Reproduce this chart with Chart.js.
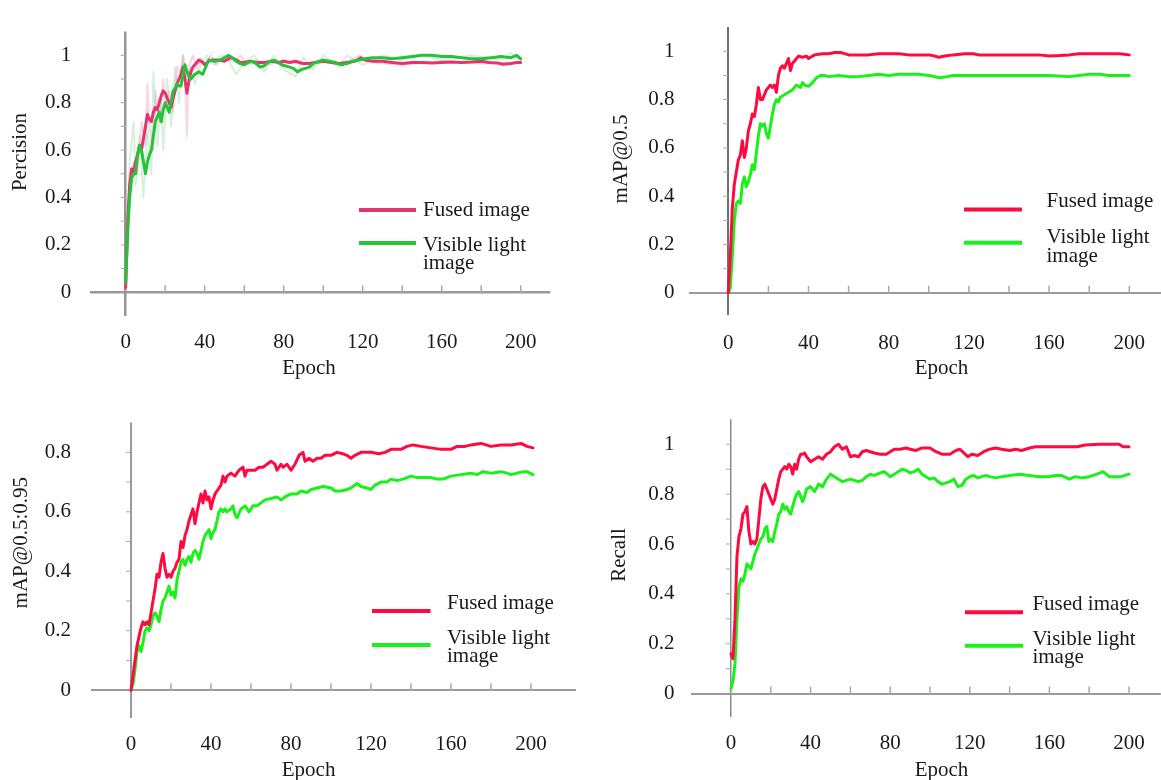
<!DOCTYPE html>
<html><head><meta charset="utf-8">
<script src="https://cdn.jsdelivr.net/npm/chart.js@4.4.1/dist/chart.umd.min.js"></script>
<style>
html,body{margin:0;padding:0;background:#fff;}
body{width:1161px;height:780px;position:relative;overflow:hidden;}
canvas{position:absolute;}
</style></head><body>
<canvas id="c1" width="580" height="390" style="left:0px;top:0px"></canvas>
<canvas id="c2" width="581" height="390" style="left:580px;top:0px"></canvas>
<canvas id="c3" width="580" height="390" style="left:0px;top:390px"></canvas>
<canvas id="c4" width="581" height="390" style="left:580px;top:390px"></canvas>
<script>
// ---------- tick labels / text ----------
const xTickLabels = [0, 40, 80, 120, 160, 200];
const xMinorTicks = [20, 40, 60, 80, 100, 120, 140, 160, 180, 200];
const yTicksUnit = [0, 0.2, 0.4, 0.6, 0.8, 1];
const yTicksMap95 = [0, 0.2, 0.4, 0.6, 0.8];
const yMinorUnit = [0.1, 0.2, 0.3, 0.4, 0.5, 0.6, 0.7, 0.8, 0.9, 1.0];
const yMinorMap95 = [0.1, 0.2, 0.3, 0.4, 0.5, 0.6, 0.7, 0.8];
const seriesLabels = ['Fused image', 'Visible light image'];
const legendLines = [['Fused image'], ['Visible light', 'image']];
const yTitles = ['Percision', 'mAP@0.5', 'mAP@0.5:0.95', 'Recall'];
const xTitle = 'Epoch';

// ---------- data: [epoch, value] ----------
const precisionFused = [[0,0.02],[1,0.3],[2,0.45],[3,0.52],[4,0.51],[5,0.55],[6,0.58],[7,0.62],[8,0.6],[9,0.65],[10,0.7],[11,0.75],[12,0.73],[13,0.72],[14,0.76],[15,0.78],[16,0.77],[17,0.8],[18,0.83],[19,0.85],[20,0.84],[21,0.82],[22,0.8],[23,0.78],[24,0.82],[25,0.85],[26,0.88],[27,0.9],[28,0.92],[29,0.95],[30,0.9],[31,0.84],[32,0.89],[33,0.93],[34,0.95],[35,0.96],[37,0.98],[39,0.97],[40,0.96],[42,0.975],[44,0.98],[47,0.98],[50,0.975],[53,0.99],[55,0.985],[58,0.97],[60,0.97],[63,0.975],[66,0.97],[70,0.97],[74,0.975],[78,0.97],[80,0.975],[83,0.97],[86,0.975],[90,0.965],[93,0.965],[96,0.97],[100,0.975],[104,0.97],[108,0.965],[112,0.97],[116,0.975],[119,0.99],[121,0.98],[125,0.975],[130,0.975],[135,0.97],[140,0.965],[145,0.97],[150,0.97],[155,0.968],[160,0.97],[165,0.972],[170,0.97],[175,0.972],[180,0.975],[184,0.97],[188,0.968],[191,0.962],[195,0.965],[198,0.97],[200,0.97]];
const precisionVisible = [[0,0.04],[1,0.25],[2,0.4],[3,0.48],[4,0.5],[5,0.5],[6,0.58],[7,0.62],[8,0.6],[9,0.55],[10,0.5],[11,0.55],[12,0.58],[13,0.6],[14,0.66],[15,0.72],[16,0.74],[17,0.76],[18,0.72],[19,0.77],[20,0.8],[21,0.78],[22,0.76],[23,0.8],[24,0.85],[25,0.86],[26,0.88],[27,0.87],[28,0.87],[29,0.92],[30,0.96],[31,0.93],[32,0.91],[33,0.9],[35,0.92],[37,0.93],[39,0.92],[40,0.94],[42,0.98],[45,0.975],[48,0.98],[50,0.99],[52,1.0],[54,0.99],[56,0.975],[58,0.965],[60,0.96],[62,0.97],[64,0.975],[66,0.965],[68,0.95],[70,0.955],[72,0.97],[75,0.98],[77,0.97],[79,0.96],[81,0.955],[83,0.95],[85,0.945],[87,0.93],[89,0.94],[91,0.945],[93,0.95],[95,0.965],[98,0.975],[100,0.98],[103,0.975],[106,0.97],[109,0.96],[112,0.965],[115,0.975],[118,0.98],[121,0.985],[125,0.99],[130,0.99],[135,0.985],[140,0.99],[145,0.995],[150,1.0],[155,1.0],[160,0.995],[165,0.995],[170,0.99],[175,0.985],[180,0.985],[185,0.99],[190,0.995],[195,0.99],[198,1.0],[200,0.985]];
const precisionFusedRaw = [[0,0.02],[2,0.5],[4,0.55],[6,0.5],[8,0.72],[10,0.62],[11,0.88],[12,0.7],[14,0.6],[15,0.85],[17,0.72],[19,0.9],[20,0.78],[22,0.85],[24,0.76],[26,0.95],[28,0.92],[29,1.0],[30,0.9],[31,0.66],[32,0.95],[34,1.0],[36,0.94],[38,0.99],[40,0.96],[43,1.0],[46,0.96],[50,1.0],[55,0.97],[58,1.0],[62,0.96],[66,0.98],[72,0.96],[80,0.98],[90,0.96],[100,0.98],[110,0.96],[118,1.0],[125,0.97],[140,0.96],[160,0.975],[180,0.965],[200,0.97]];
const precisionVisibleRaw = [[0,0.04],[2,0.55],[4,0.72],[5,0.45],[7,0.66],[9,0.4],[11,0.7],[13,0.5],[14,0.93],[16,0.62],[18,0.82],[19,0.6],[21,0.9],[23,0.7],[25,0.95],[27,0.8],[29,1.0],[31,0.9],[33,0.95],[35,0.88],[38,0.96],[41,1.0],[45,0.96],[48,1.0],[52,0.98],[56,0.92],[60,0.97],[65,1.0],[70,0.93],[75,1.0],[80,0.94],[86,0.91],[90,0.99],[95,0.94],[100,1.0],[108,0.95],[112,1.0],[120,0.96],[130,1.0],[140,0.98],[150,1.0],[160,0.98],[175,1.0],[190,0.98],[195,1.01],[200,0.98]];

const map50Fused = [[0,0],[1,0.15],[2,0.35],[3,0.45],[4,0.5],[5,0.55],[6,0.57],[7,0.63],[8,0.56],[9,0.6],[10,0.67],[11,0.7],[12,0.74],[13,0.73],[14,0.78],[15,0.85],[16,0.8],[17,0.8],[18,0.82],[19,0.84],[20,0.85],[21,0.86],[22,0.85],[23,0.86],[24,0.83],[25,0.9],[26,0.93],[27,0.94],[28,0.93],[29,0.95],[30,0.97],[31,0.92],[32,0.95],[33,0.96],[35,0.98],[37,0.975],[39,0.98],[40,0.97],[43,0.985],[47,0.99],[50,0.99],[53,0.995],[56,0.995],[58,0.99],[60,0.985],[65,0.985],[70,0.985],[75,0.99],[80,0.99],[85,0.99],[90,0.985],[95,0.985],[100,0.985],[103,0.98],[105,0.975],[108,0.98],[112,0.985],[118,0.99],[122,0.99],[125,0.985],[130,0.985],[140,0.985],[150,0.985],[155,0.985],[160,0.98],[165,0.982],[170,0.985],[175,0.99],[180,0.99],[185,0.99],[190,0.99],[195,0.99],[200,0.985]];
const map50Visible = [[0,0],[1,0.02],[2,0.15],[3,0.3],[4,0.37],[5,0.38],[6,0.37],[7,0.45],[8,0.48],[9,0.44],[10,0.46],[11,0.49],[12,0.53],[13,0.51],[14,0.58],[15,0.65],[16,0.7],[17,0.69],[18,0.7],[19,0.66],[20,0.64],[21,0.69],[22,0.74],[23,0.78],[24,0.8],[25,0.79],[26,0.81],[28,0.82],[30,0.83],[32,0.84],[34,0.86],[36,0.85],[37,0.87],[38,0.86],[40,0.855],[42,0.87],[44,0.89],[46,0.9],[48,0.9],[50,0.895],[55,0.9],[60,0.895],[65,0.895],[70,0.9],[75,0.905],[80,0.9],[85,0.905],[90,0.905],[95,0.905],[100,0.9],[103,0.895],[105,0.89],[108,0.893],[112,0.9],[118,0.9],[125,0.9],[130,0.9],[140,0.9],[150,0.9],[160,0.9],[170,0.895],[175,0.9],[180,0.905],[185,0.905],[190,0.9],[195,0.9],[200,0.9]];

const map5095Fused = [[0,0],[1,0.05],[2,0.1],[3,0.15],[4,0.18],[5,0.21],[6,0.23],[7,0.22],[8,0.23],[9,0.22],[10,0.26],[11,0.3],[12,0.34],[13,0.39],[14,0.38],[15,0.43],[16,0.46],[17,0.41],[18,0.38],[19,0.39],[20,0.38],[21,0.4],[22,0.41],[23,0.43],[24,0.44],[25,0.5],[26,0.48],[27,0.52],[28,0.54],[29,0.57],[30,0.59],[31,0.61],[32,0.56],[33,0.6],[34,0.63],[35,0.66],[36,0.63],[37,0.67],[38,0.64],[39,0.65],[40,0.61],[41,0.64],[42,0.66],[43,0.67],[45,0.69],[46,0.72],[47,0.7],[48,0.72],[50,0.73],[52,0.72],[54,0.74],[56,0.75],[57,0.72],[58,0.74],[60,0.74],[62,0.74],[64,0.75],[66,0.75],[68,0.76],[70,0.77],[72,0.76],[73,0.74],[75,0.76],[76,0.75],[78,0.76],[80,0.74],[82,0.76],[84,0.79],[86,0.8],[87,0.77],[89,0.78],[91,0.77],[93,0.78],[95,0.78],[97,0.79],[100,0.79],[103,0.8],[106,0.795],[108,0.79],[110,0.78],[112,0.79],[115,0.8],[118,0.8],[120,0.8],[124,0.795],[127,0.8],[130,0.81],[135,0.81],[138,0.82],[141,0.825],[145,0.82],[150,0.815],[155,0.81],[160,0.81],[163,0.82],[167,0.82],[170,0.825],[175,0.83],[180,0.82],[185,0.825],[190,0.825],[195,0.83],[198,0.82],[201,0.815]];
const map5095Visible = [[0,0],[1,0.02],[2,0.07],[3,0.13],[4,0.15],[5,0.13],[6,0.16],[7,0.2],[8,0.21],[9,0.2],[10,0.22],[11,0.25],[12,0.26],[13,0.25],[14,0.23],[15,0.27],[16,0.3],[17,0.31],[18,0.33],[19,0.35],[20,0.32],[21,0.33],[22,0.31],[23,0.37],[24,0.4],[25,0.43],[26,0.44],[27,0.42],[28,0.44],[29,0.45],[30,0.43],[31,0.46],[32,0.47],[33,0.46],[34,0.44],[35,0.47],[36,0.5],[37,0.52],[38,0.53],[39,0.54],[40,0.51],[41,0.53],[42,0.54],[43,0.57],[44,0.6],[45,0.61],[46,0.6],[47,0.61],[48,0.6],[50,0.61],[51,0.62],[52,0.59],[53,0.58],[55,0.61],[57,0.62],[59,0.6],[61,0.62],[63,0.62],[65,0.63],[67,0.64],[70,0.645],[73,0.65],[75,0.64],[77,0.65],[80,0.66],[83,0.66],[85,0.67],[88,0.665],[90,0.675],[93,0.68],[96,0.685],[100,0.68],[102,0.67],[105,0.67],[108,0.675],[110,0.68],[113,0.695],[115,0.685],[118,0.68],[120,0.675],[122,0.69],[125,0.7],[128,0.7],[130,0.71],[133,0.705],[136,0.71],[140,0.72],[143,0.715],[146,0.715],[150,0.715],[153,0.71],[156,0.71],[160,0.72],[165,0.725],[170,0.73],[173,0.725],[176,0.735],[180,0.73],[185,0.735],[188,0.73],[190,0.725],[193,0.73],[196,0.735],[198,0.735],[201,0.725]];

const recallFused = [[0,0.16],[1,0.14],[2,0.3],[3,0.55],[4,0.63],[5,0.66],[6,0.72],[7,0.73],[8,0.75],[9,0.65],[10,0.6],[11,0.61],[12,0.6],[13,0.62],[14,0.7],[15,0.78],[16,0.83],[17,0.84],[18,0.82],[19,0.8],[20,0.78],[21,0.76],[22,0.78],[23,0.82],[24,0.86],[25,0.89],[26,0.9],[27,0.91],[28,0.9],[29,0.92],[30,0.91],[31,0.88],[32,0.92],[33,0.9],[34,0.94],[35,0.96],[36,0.96],[37,0.965],[38,0.95],[40,0.93],[42,0.94],[44,0.95],[46,0.94],[48,0.96],[50,0.97],[52,0.99],[54,1.0],[56,0.98],[58,0.99],[60,0.95],[62,0.955],[64,0.95],[66,0.97],[68,0.975],[70,0.97],[72,0.965],[75,0.96],[78,0.96],[80,0.97],[82,0.98],[85,0.98],[88,0.985],[90,0.98],[93,0.975],[96,0.985],[100,0.985],[103,0.97],[106,0.96],[110,0.96],[113,0.975],[115,0.98],[117,0.965],[119,0.95],[121,0.96],[124,0.955],[127,0.97],[130,0.98],[133,0.985],[136,0.98],[140,0.975],[143,0.98],[146,0.975],[150,0.985],[153,0.99],[160,0.99],[170,0.99],[174,0.99],[178,0.997],[185,1.0],[192,1.0],[195,1.0],[197,0.99],[200,0.99]];
const recallVisible = [[0,0.02],[1,0.05],[2,0.12],[3,0.3],[4,0.43],[5,0.46],[6,0.45],[7,0.48],[8,0.52],[9,0.51],[10,0.5],[11,0.53],[12,0.56],[13,0.58],[14,0.6],[15,0.62],[16,0.63],[17,0.66],[18,0.67],[19,0.61],[20,0.62],[21,0.61],[22,0.65],[23,0.68],[24,0.72],[25,0.73],[26,0.76],[27,0.74],[28,0.75],[29,0.73],[30,0.72],[31,0.75],[32,0.78],[33,0.8],[34,0.81],[35,0.79],[36,0.77],[37,0.79],[38,0.82],[40,0.83],[42,0.81],[44,0.84],[46,0.83],[48,0.86],[50,0.88],[52,0.87],[54,0.86],[56,0.85],[58,0.855],[60,0.86],[62,0.855],[64,0.85],[66,0.855],[68,0.87],[70,0.88],[72,0.875],[75,0.885],[77,0.89],[80,0.87],[82,0.88],[84,0.89],[86,0.9],[88,0.895],[90,0.885],[92,0.89],[94,0.9],[96,0.88],[98,0.87],[100,0.86],[102,0.865],[104,0.85],[106,0.84],[108,0.845],[110,0.85],[112,0.86],[114,0.83],[116,0.835],[118,0.86],[120,0.87],[122,0.875],[124,0.865],[126,0.87],[128,0.875],[130,0.87],[133,0.865],[136,0.87],[140,0.875],[145,0.88],[150,0.875],[155,0.87],[160,0.87],[163,0.875],[166,0.875],[170,0.86],[173,0.87],[176,0.865],[180,0.87],[184,0.88],[187,0.89],[190,0.87],[193,0.87],[196,0.87],[200,0.88]];

// ---------- drawing ----------
const FONT_FAMILY = '"Liberation Serif", "Times New Roman", serif';
const FONT_SIZE = 21;

function makeExtras(cfg) {
  return {
    id: 'extras',
    beforeDatasetsDraw(chart) {
      const ctx = chart.ctx, xs = chart.scales.x, ys = chart.scales.y;
      const ax = xs.getPixelForValue(0), ay = ys.getPixelForValue(0);
      ctx.save();
      ctx.strokeStyle = cfg.tickColor; ctx.lineWidth = 1.5;
      cfg.xMinor.forEach(v => { const p = xs.getPixelForValue(v); ctx.beginPath(); ctx.moveTo(p, ay + 1); ctx.lineTo(p, ay - 7); ctx.stroke(); });
      ctx.lineWidth = 1;
      cfg.yMinor.forEach(v => { const p = ys.getPixelForValue(v); ctx.beginPath(); ctx.moveTo(ax - 5, p); ctx.lineTo(ax, p); ctx.stroke(); });
      ctx.restore();
    },
    afterDraw(chart) {
      const ctx = chart.ctx;
      ctx.save();
      ctx.font = FONT_SIZE + 'px ' + FONT_FAMILY;
      ctx.fillStyle = '#1a1a1a';
      ctx.textAlign = 'center'; ctx.textBaseline = 'middle';
      ctx.fillText(cfg.xTitle, cfg.xTitleAt[0], cfg.xTitleAt[1]);
      ctx.save();
      ctx.translate(cfg.yTitleAt[0], cfg.yTitleAt[1]); ctx.rotate(-Math.PI / 2);
      ctx.fillText(cfg.yTitle, 0, 0);
      ctx.restore();
      ctx.textAlign = 'left';
      cfg.legend.items.forEach(it => {
        const ds = chart.data.datasets[it.ds];
        ctx.strokeStyle = ds.borderColor; ctx.lineWidth = cfg.legend.lineWidth;
        ctx.beginPath(); ctx.moveTo(cfg.legend.x1, it.lineY); ctx.lineTo(cfg.legend.x2, it.lineY); ctx.stroke();
        it.lines.forEach((t, i) => ctx.fillText(t, cfg.legend.textX, it.textYs[i]));
      });
      ctx.restore();
    }
  };
}

function makePanel(id, s, datasets) {
  const el = document.getElementById(id);
  const W = el.width, H = el.height;
  const cl = s.x0 + s.xmin * s.ppe - s.left;
  const cr = s.x0 + s.xmax * s.ppe - s.left;
  const ct = s.y0 - s.ymax * s.ppu - s.top;
  const cb = s.y0 - s.ymin * s.ppu - s.top;
  const L = (p) => [p[0] - s.left, p[1] - s.top];
  const font = { family: FONT_FAMILY, size: FONT_SIZE };
  const extras = makeExtras({
    tickColor: '#a8a8a8',
    xMinor: xMinorTicks, yMinor: s.yMinor,
    xTitle: xTitle, xTitleAt: L(s.xTitleAt),
    yTitle: s.yTitle, yTitleAt: L(s.yTitleAt),
    legend: {
      x1: s.legend.x1 - s.left, x2: s.legend.x2 - s.left, textX: s.legend.textX - s.left, lineWidth: 4,
      items: [
        { ds: datasets.findIndex(d => d.label === seriesLabels[0]), lineY: s.legend.lineY[0] - s.top, lines: legendLines[0], textYs: s.legend.textY[0].map(v => v - s.top) },
        { ds: datasets.findIndex(d => d.label === seriesLabels[1]), lineY: s.legend.lineY[1] - s.top, lines: legendLines[1], textYs: s.legend.textY[1].map(v => v - s.top) }
      ]
    }
  });
  new Chart(el, {
    type: 'line',
    data: {
      datasets: datasets.map(d => ({
        label: d.label,
        data: d.points.map(p => ({ x: p[0], y: p[1] })),
        borderColor: d.color, borderWidth: d.width,
        pointRadius: 0, tension: 0, fill: false, order: d.order,
        borderJoinStyle: 'round', borderCapStyle: 'round'
      }))
    },
    options: {
      responsive: false, animation: false, events: [],
      layout: { padding: { left: 0, top: ct, right: W - cr, bottom: 0 } },
      plugins: { legend: { display: false }, tooltip: { enabled: false }, title: { display: false } },
      scales: {
        x: {
          type: 'linear', min: s.xmin, max: s.xmax,
          afterFit: sc => { sc.height = H - cb; },
          afterBuildTicks: sc => { sc.ticks = xTickLabels.map(v => ({ value: v })); },
          border: { display: false },
          grid: {
            drawTicks: false,
            color: c => (c.tick && c.tick.value === 0) ? s.yAxisColor : 'rgba(0,0,0,0)',
            lineWidth: c => (c.tick && c.tick.value === 0) ? s.yAxisWidth : 0
          },
          ticks: { font: font, color: '#1a1a1a', padding: s.xLabelY - s.top - cb - FONT_SIZE * 0.6, maxRotation: 0, autoSkip: false,
                   callback: v => String(v) }
        },
        y: {
          type: 'linear', min: s.ymin, max: s.ymax,
          afterFit: sc => { sc.width = cl; },
          afterBuildTicks: sc => { sc.ticks = s.yTicks.map(v => ({ value: v })); },
          border: { display: false },
          grid: {
            drawTicks: false,
            color: c => (c.tick && c.tick.value === 0) ? s.xAxisColor : 'rgba(0,0,0,0)',
            lineWidth: c => (c.tick && c.tick.value === 0) ? s.xAxisWidth : 0
          },
          ticks: { font: font, color: '#1a1a1a', padding: s.yTickPad, callback: v => String(v) }
        }
      }
    },
    plugins: [extras]
  });
}

const P1 = { left: 0, top: 0, x0: 125.7, ppe: 1.975, xmin: -18, xmax: 215, y0: 290.7, ppu: 253, ymin: -0.1, ymax: 1.1,
  yTicks: yTicksUnit, yMinor: yMinorUnit, yTickPad: 19, xLabelY: 342, yTitle: yTitles[0], yTitleAt: [20.4, 152], xTitleAt: [309, 368],
  xAxisColor: '#9a9a9a', xAxisWidth: 2.5, yAxisColor: '#959595', yAxisWidth: 2.5,
  legend: { x1: 359, x2: 416, textX: 423, lineY: [210, 243], textY: [[210], [245, 263]] } };
const P2 = { left: 580, top: 0, x0: 728.3, ppe: 2.005, xmin: -19.6, xmax: 215.8, y0: 291.7, ppu: 254.4, ymin: -0.09, ymax: 1.1,
  yTicks: yTicksUnit, yMinor: yMinorUnit, yTickPad: 14.5, xLabelY: 343, yTitle: yTitles[1], yTitleAt: [621, 159], xTitleAt: [941.5, 368],
  xAxisColor: '#9a9a9a', xAxisWidth: 2, yAxisColor: '#707070', yAxisWidth: 2,
  legend: { x1: 964, x2: 1022, textX: 1046.5, lineY: [209.5, 242.7], textY: [[201.7], [237, 256]] } };
const P3 = { left: 0, top: 390, x0: 131, ppe: 2.0, xmin: -20, xmax: 222.5, y0: 689.3, ppu: 307, ymin: -0.094, ymax: 0.9,
  yTicks: yTicksMap95, yMinor: yMinorMap95, yTickPad: 20, xLabelY: 744, yTitle: yTitles[2], yTitleAt: [21, 542.7], xTitleAt: [308.6, 770],
  xAxisColor: '#9a9a9a', xAxisWidth: 2, yAxisColor: '#9a9a9a', yAxisWidth: 2,
  legend: { x1: 372, x2: 430.5, textX: 447, lineY: [611, 645], textY: [[603], [638, 656.7]] } };
const P4 = { left: 580, top: 390, x0: 731, ppe: 1.99, xmin: -20, xmax: 216, y0: 693.3, ppu: 252.7, ymin: -0.093, ymax: 1.1,
  yTicks: yTicksUnit, yMinor: yMinorUnit, yTickPad: 16.7, xLabelY: 743, yTitle: yTitles[3], yTitleAt: [619.3, 555], xTitleAt: [941.5, 770],
  xAxisColor: '#9a9a9a', xAxisWidth: 2, yAxisColor: '#8a8a8a', yAxisWidth: 1.5,
  legend: { x1: 965, x2: 1023, textX: 1032.4, lineY: [612.3, 645.7], textY: [[604], [639, 657.7]] } };

const PINK = '#e63370', GREEN1 = '#24c43a';
const RED = '#ff0a40', GREEN2 = '#19f219';

makePanel('c1', P1, [
  { label: seriesLabels[1], points: precisionVisible, color: GREEN1, width: 3, order: 0 },
  { label: seriesLabels[0], points: precisionFused, color: PINK, width: 3, order: 1 },
  { label: 'raw-fused', points: precisionFusedRaw, color: 'rgba(240,120,160,0.3)', width: 2, order: 2 },
  { label: 'raw-visible', points: precisionVisibleRaw, color: 'rgba(90,200,110,0.25)', width: 2, order: 3 }
]);
makePanel('c2', P2, [
  { label: seriesLabels[0], points: map50Fused, color: RED, width: 3, order: 0 },
  { label: seriesLabels[1], points: map50Visible, color: GREEN2, width: 3, order: 1 }
]);
makePanel('c3', P3, [
  { label: seriesLabels[0], points: map5095Fused, color: RED, width: 3, order: 0 },
  { label: seriesLabels[1], points: map5095Visible, color: GREEN2, width: 3, order: 1 }
]);
makePanel('c4', P4, [
  { label: seriesLabels[0], points: recallFused, color: RED, width: 3, order: 0 },
  { label: seriesLabels[1], points: recallVisible, color: GREEN2, width: 3, order: 1 }
]);
</script>
</body></html>
